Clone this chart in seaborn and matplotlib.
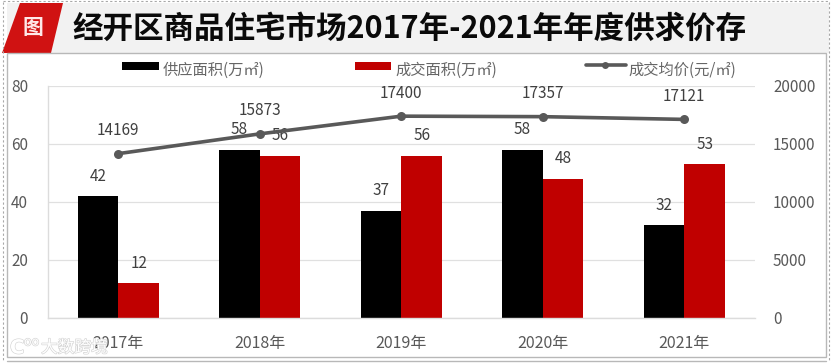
import numpy as np
import pandas as pd
import matplotlib
matplotlib.use("Agg")
import matplotlib.pyplot as plt
import matplotlib.patheffects as pe
from matplotlib.patches import Polygon
from matplotlib.lines import Line2D
import seaborn as sns

years = ["2017年", "2018年", "2019年", "2020年", "2021年"]
supply = [42, 58, 37, 58, 32]
deals = [12, 56, 56, 48, 53]
price = [14169, 15873, 17400, 17357, 17121]
supply_name = "供应面积(万㎡)"
deal_name = "成交面积(万㎡)"
price_name = "成交均价(元/㎡)"
title = "经开区商品住宅市场2017年-2021年年度供求价存"

sns.set_theme(style="white")
plt.rcParams["font.family"] = ["Noto Sans CJK SC", "DejaVu Sans"]

W, H = 831, 364
fig = plt.figure(figsize=(W / 100, H / 100), dpi=100, facecolor="white")

def px(x, y):
    return x / W, 1 - y / H

def fig_poly(pts, zorder=-5, **kw):
    fig.add_artist(Polygon([px(*p) for p in pts], closed=True, transform=fig.transFigure, zorder=zorder, **kw))

def fig_line(xs, ys, zorder=-4, **kw):
    p = [px(x, y) for x, y in zip(xs, ys)]
    fig.add_artist(Line2D([a for a, _ in p], [b for _, b in p], transform=fig.transFigure, zorder=zorder, **kw))

# header band and frame
fig_poly([(7, 3), (829, 3), (829, 53), (7, 53)], fc="#f2f2f2", ec="none")
fig_poly([(20, 3), (63, 3), (51, 53), (2, 53)], fc="#d01212", ec="none")
fig_poly([(7, 53), (826, 53), (826, 357), (7, 357)], fc="white", ec="#b8b8b8", lw=1.0)
fig_line([7, 826], [361, 361], color="#b8b8b8", lw=1.0)
fig_line([3, 3], [2, 360], color="#a8a8a8", lw=0.8, ls=(0, (2, 2)))
fig_line([829, 829], [2, 360], color="#a8a8a8", lw=0.8, ls=(0, (2, 2)))
fig_line([3, 829], [1, 1], color="#a8a8a8", lw=0.8, ls=(0, (2, 2)))

fig.text(*px(33, 28), "图", color="#ffe8e8", fontsize=15, fontweight="bold", ha="center", va="center")
fig.text(*px(72, 29), title, color="#0a0a0a", fontsize=22, fontweight="bold", ha="left", va="center")

# plot area
x0, x1, y0, y1 = 47.5, 755, 86, 318
ax = fig.add_axes([x0 / W, 1 - y1 / H, (x1 - x0) / W, (y1 - y0) / H])
ax.patch.set_alpha(0)

df = pd.DataFrame({
    "year": years * 2,
    "value": supply + deals,
    "series": [supply_name] * 5 + [deal_name] * 5,
})
sns.barplot(data=df, x="year", y="value", hue="series", order=years,
            hue_order=[supply_name, deal_name],
            palette=["#000000", "#c00000"], width=0.575, dodge=True, gap=0,
            saturation=1, legend=False, ax=ax, zorder=2, errorbar=None, linewidth=0)

ax.set_xlim(-0.5, 4.5)
ax.set_ylim(0, 80)
ax.set_yticks([0, 20, 40, 60, 80])
ax.set_xlabel("")
ax.set_ylabel("")
ax.grid(axis="y", color="#e0e0e0", lw=0.9)
ax.set_axisbelow(True)
for s in ["top", "right"]:
    ax.spines[s].set_visible(False)
for s in ["left", "bottom"]:
    ax.spines[s].set_color("#dcdcdc")
    ax.spines[s].set_linewidth(1.0)
ax.tick_params(axis="both", length=0, labelcolor="#595959", labelsize=11)
ax.tick_params(axis="x", pad=12, labelsize=11.5)
ax.tick_params(axis="y", pad=14)

for container in ax.containers:
    for bar, val in zip(container, container.datavalues):
        ax.annotate(f"{val:g}", (bar.get_x() + bar.get_width() / 2, val),
                    xytext=(0, 20 * 0.72), textcoords="offset points",
                    ha="center", va="center", fontsize=11, color="#404040", zorder=6)

ax2 = ax.twinx()
ax2.patch.set_alpha(0)
sns.lineplot(x=np.arange(len(years)), y=price, ax=ax2, color="#595959", lw=2.6,
             marker="o", markersize=6.5, markeredgewidth=0, legend=False, errorbar=None, zorder=5)
ax2.set_ylim(0, 20000)
ax2.set_yticks([0, 5000, 10000, 15000, 20000])
ax2.set_xlim(-0.5, 4.5)
ax2.set_ylabel("")
ax2.grid(False)
for s in ax2.spines.values():
    s.set_visible(False)
ax2.tick_params(axis="y", length=0, labelcolor="#595959", labelsize=11, pad=13)
for i, val in enumerate(price):
    ax2.annotate(str(val), (i, val), xytext=(0, 23 * 0.72), textcoords="offset points",
                 ha="center", va="center", fontsize=11, color="#404040", zorder=6)

# legend
def legend_item(a, b, tx, name, color):
    fig_poly([(a, 62), (b, 62), (b, 70), (a, 70)], fc=color, ec="none")
    fig.text(*px(tx, 70), name, color="#666666", fontsize=11, ha="left", va="center")

legend_item(122, 159, 163, supply_name, "#000000")
legend_item(355, 391, 395, deal_name, "#c00000")
fig_line([586, 626], [65, 65], color="#595959", lw=2.6)
fig_line([605], [65], color="#595959", marker="o", markersize=5, markeredgewidth=0)
fig.text(*px(628, 70), price_name, color="#666666", fontsize=11, ha="left", va="center")

# watermark
halo = [pe.withStroke(linewidth=0.9, foreground="#d4d4d4")]
fig.text(*px(10, 348), "C", color="white", fontsize=14, fontweight="bold", ha="left", va="center",
         family=["DejaVu Sans"], path_effects=halo, zorder=10)
fig.text(*px(24, 342), "oo", color="white", fontsize=9, ha="left", va="center", path_effects=halo, zorder=10)
fig.text(*px(41, 348), "大数跨境", color="white", fontsize=12, ha="left", va="center", path_effects=halo, zorder=10)

fig.savefig("out.png", dpi=100, facecolor="white")
